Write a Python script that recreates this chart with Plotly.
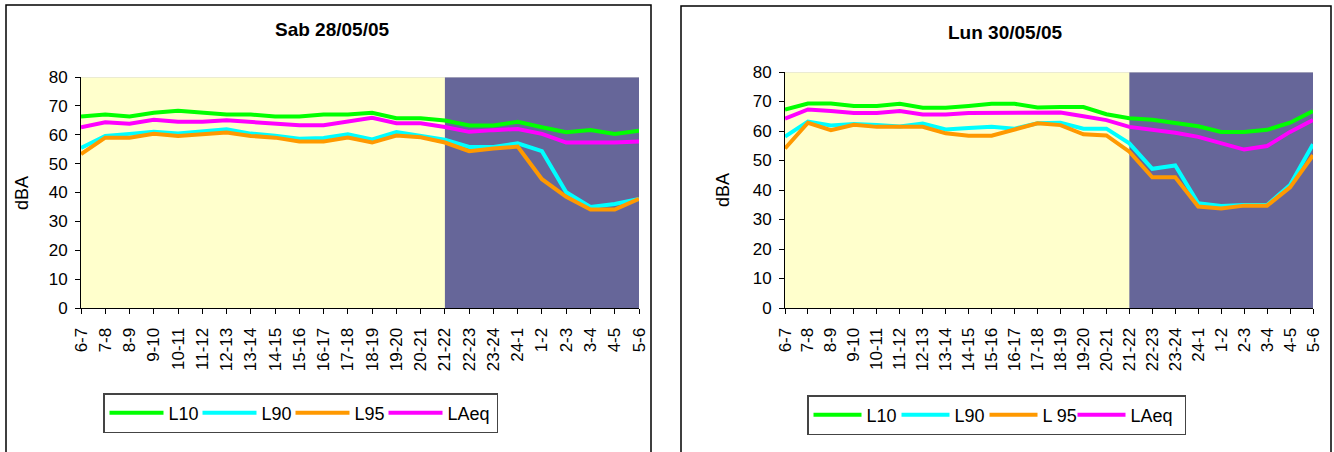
import plotly.graph_objects as go

hours = ["6-7", "7-8", "8-9", "9-10", "10-11", "11-12", "12-13", "13-14", "14-15",
         "15-16", "16-17", "17-18", "18-19", "19-20", "20-21", "21-22", "22-23",
         "23-24", "24-1", "1-2", "2-3", "3-4", "4-5", "5-6"]
night_start = "21-22"

sab_L10 = [66.3, 67.0, 66.3, 67.6, 68.3, 67.6, 67.0, 67.0, 66.3, 66.3, 67.0, 67.0,
           67.6, 65.7, 65.7, 64.9, 63.2, 63.2, 64.5, 62.6, 60.9, 61.6, 60.3, 61.4]
sab_L90 = [55.4, 59.6, 60.3, 61.0, 60.4, 61.0, 61.9, 60.4, 59.7, 58.6, 58.9, 60.2,
           58.4, 60.9, 59.7, 58.3, 55.8, 55.8, 57.0, 54.3, 40.1, 35.0, 36.0, 37.8]
sab_L95 = [53.3, 59.0, 59.0, 60.3, 59.6, 60.2, 60.8, 59.6, 59.0, 57.7, 57.7, 59.0,
           57.3, 59.7, 59.1, 57.3, 54.3, 55.2, 55.9, 44.6, 38.5, 34.1, 34.1, 37.8]
sab_LAeq = [62.6, 64.3, 63.8, 65.2, 64.5, 64.5, 65.0, 64.5, 63.9, 63.3, 63.3, 64.6,
            65.9, 64.0, 64.0, 62.7, 61.0, 61.6, 62.0, 60.3, 57.3, 57.3, 57.3, 57.7]

lun_L10 = [67.3, 69.3, 69.3, 68.5, 68.5, 69.2, 67.9, 67.9, 68.5, 69.2, 69.2, 68.0,
           68.1, 68.1, 65.7, 64.3, 63.8, 62.8, 61.6, 59.7, 59.7, 60.4, 62.8, 66.8]
lun_L90 = [58.1, 63.2, 61.9, 62.4, 62.0, 61.5, 62.5, 60.5, 61.0, 61.4, 60.8, 62.6,
           62.8, 60.8, 60.8, 55.8, 47.2, 48.3, 35.5, 34.6, 34.9, 34.9, 41.7, 55.5]
lun_L95 = [54.1, 62.8, 60.3, 62.1, 61.4, 61.4, 61.4, 59.2, 58.4, 58.4, 60.4, 62.6,
           62.0, 58.9, 58.5, 53.0, 44.3, 44.3, 34.4, 33.7, 34.7, 34.7, 40.9, 51.8]
lun_LAeq = [64.2, 67.3, 66.8, 66.1, 66.1, 66.8, 65.6, 65.6, 66.1, 66.1, 66.1, 66.1,
            66.3, 65.0, 63.7, 61.4, 60.5, 59.4, 58.0, 55.8, 53.7, 54.9, 59.7, 63.7]

titles = ["Sab 28/05/05", "Lun 30/05/05"]
names_left = ["L10", "L90", "L95", "LAeq"]
names_right = ["L10", "L90", "L 95", "LAeq"]
colors = ["#00FF00", "#00FFFF", "#FF9900", "#FF00FF"]

W, H = 1334, 452
FONT = "Liberation Sans, Arial, sans-serif"

fig = go.Figure()

def px_x(v):
    return v / W

def px_y(v):
    return 1 - v / H

left_series = [sab_L10, sab_L90, sab_L95, sab_LAeq]
right_series = [lun_L10, lun_L90, lun_L95, lun_LAeq]
left_lw = [24, 24, 24, 44]
right_lw = [25, 25, 25, 49]

for name, col, ys, lw in zip(names_left, colors, left_series, left_lw):
    fig.add_trace(go.Scatter(x=hours, y=ys, mode="lines", name=name,
                             line=dict(color=col, width=4), legendwidth=lw,
                             xaxis="x", yaxis="y", legend="legend"))
for name, col, ys, lw in zip(names_right, colors, right_series, right_lw):
    fig.add_trace(go.Scatter(x=hours, y=ys, mode="lines", name=name,
                             line=dict(color=col, width=4), legendwidth=lw,
                             xaxis="x2", yaxis="y2", legend="legend2"))

xaxis_common = dict(type="category", categoryorder="array", categoryarray=hours,
                    range=[0, len(hours) - 1], showgrid=False, zeroline=False,
                    showline=True, linecolor="black", linewidth=1,
                    ticks="outside", ticklen=5, tickcolor="black", tickangle=-90,
                    tickfont=dict(family=FONT, size=17, color="black"),
                    ticklabelstandoff=7, fixedrange=True)
yaxis_common = dict(range=[0, 80], dtick=10, showgrid=False, zeroline=False,
                    showline=True, linecolor="black", linewidth=1,
                    ticks="outside", ticklen=5, tickcolor="black",
                    tickfont=dict(family=FONT, size=17, color="black"),
                    ticklabelstandoff=4, fixedrange=True)

legend_common = dict(orientation="h", xanchor="left", yanchor="top",
                     bordercolor="#444444", borderwidth=1.5, bgcolor="white",
                     font=dict(family=FONT, size=18, color="black"),
                     entrywidthmode="pixels")

fig.update_layout(
    width=W, height=H,
    margin=dict(l=0, r=0, t=0, b=0, autoexpand=False),
    paper_bgcolor="white",
    plot_bgcolor="#FFFFCC",
    font=dict(family=FONT, color="black"),
    xaxis=dict(domain=[px_x(81), px_x(639)], anchor="y", **xaxis_common),
    yaxis=dict(domain=[px_y(308), px_y(77)], anchor="x", **yaxis_common),
    xaxis2=dict(domain=[px_x(785), px_x(1313)], anchor="y2", **xaxis_common),
    yaxis2=dict(domain=[px_y(308), px_y(72)], anchor="x2", **yaxis_common),
    legend=dict(x=px_x(103), y=px_y(393), itemwidth=54, **legend_common),
    legend2=dict(x=px_x(807), y=px_y(395), itemwidth=48, **legend_common),
    showlegend=True,
)

# night shading (from 21-22 to end) and faint plot-area top edge in each subplot
ni = hours.index(night_start)
for xr, yr in [("x", "y"), ("x2", "y2")]:
    fig.add_shape(type="rect", xref=xr, yref=yr, x0=ni, x1=len(hours) - 1, y0=0, y1=80,
                  fillcolor="#666699", line=dict(width=0), layer="below")
    fig.add_shape(type="line", xref=xr, yref=yr, x0=0, x1=len(hours) - 1, y0=80, y1=80,
                  line=dict(color="#D8D8D8", width=1), layer="below")

# chart borders
fig.add_shape(type="rect", xref="paper", yref="paper", x0=px_x(6), x1=px_x(651),
              y0=px_y(470), y1=px_y(5), line=dict(color="black", width=1.5),
              fillcolor="rgba(0,0,0,0)")
fig.add_shape(type="rect", xref="paper", yref="paper", x0=px_x(681), x1=px_x(1331),
              y0=px_y(470), y1=px_y(6), line=dict(color="black", width=1.5),
              fillcolor="rgba(0,0,0,0)")

# titles
fig.add_annotation(text="<b>" + titles[0] + "</b>", xref="paper", yref="paper",
                   x=px_x(332), y=px_y(30), xanchor="center", yanchor="middle",
                   showarrow=False, font=dict(family=FONT, size=19, color="black"))
fig.add_annotation(text="<b>" + titles[1] + "</b>", xref="paper", yref="paper",
                   x=px_x(1005), y=px_y(32), xanchor="center", yanchor="middle",
                   showarrow=False, font=dict(family=FONT, size=19, color="black"))
# axis titles
fig.add_annotation(text="dBA", xref="paper", yref="paper", x=px_x(22), y=px_y(193),
                   xanchor="center", yanchor="middle", showarrow=False, textangle=-90,
                   font=dict(family=FONT, size=18, color="black"))
fig.add_annotation(text="dBA", xref="paper", yref="paper", x=px_x(723), y=px_y(190),
                   xanchor="center", yanchor="middle", showarrow=False, textangle=-90,
                   font=dict(family=FONT, size=18, color="black"))

fig.write_html("out.html")
